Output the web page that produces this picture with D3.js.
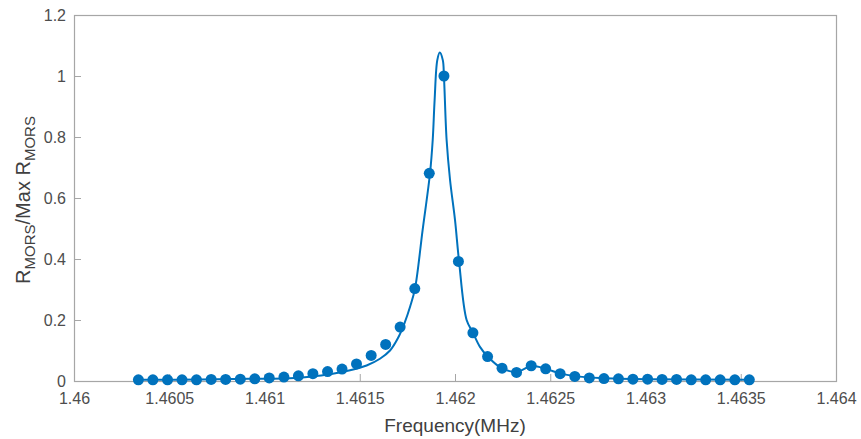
<!DOCTYPE html>
<html>
<head>
<meta charset="utf-8">
<script src="https://cdn.jsdelivr.net/npm/d3@7"></script>
<style>
    body { margin: 0; background: #fff; }
    svg { display: block; font-family: "Liberation Sans", Arial, sans-serif; }
</style>
</head>
<body>
<svg id="chart" width="861" height="439"></svg>
<script>
// measured points (frequency in MHz, normalised R)
var freqs = [
    1.460338, 1.460414, 1.460491, 1.460567, 1.460643, 1.460720, 1.460796, 1.460873,
    1.460949, 1.461025, 1.461102, 1.461178, 1.461254, 1.461331, 1.461407, 1.461483,
    1.461560, 1.461636, 1.461712, 1.461789, 1.461865, 1.461942, 1.462018, 1.462094,
    1.462171, 1.462247, 1.462323, 1.462400, 1.462476, 1.462552, 1.462629, 1.462705,
    1.462782, 1.462858, 1.462934, 1.463011, 1.463087, 1.463163, 1.463240, 1.463316,
    1.463392, 1.463469, 1.463545
];
var values = [
    0.004, 0.004, 0.004, 0.004, 0.004, 0.005, 0.005, 0.006,
    0.007, 0.010, 0.013, 0.017, 0.024, 0.031, 0.039, 0.056,
    0.084, 0.120, 0.177, 0.303, 0.681, 1.000, 0.392, 0.158,
    0.080, 0.042, 0.028, 0.050, 0.040, 0.024, 0.015, 0.010,
    0.008, 0.007, 0.006, 0.006, 0.005, 0.005, 0.004, 0.004,
    0.004, 0.004, 0.004
];

// fitted curve
var fitFreqs = [
    1.460338, 1.460661, 1.460924, 1.461134, 1.461239, 1.461344, 1.461449, 1.461536,
    1.461606, 1.461659, 1.461700, 1.461735, 1.461765, 1.461790, 1.461830, 1.461869,
    1.461883, 1.461893, 1.461907, 1.461920, 1.461936, 1.461942, 1.461956, 1.461974,
    1.462000, 1.462021, 1.462061, 1.462093, 1.462131, 1.462175, 1.462245, 1.462324,
    1.462403, 1.462481, 1.462551, 1.462630, 1.462761, 1.463024, 1.463545
];
var fitValues = [
    0.004, 0.005, 0.007, 0.009, 0.014, 0.022, 0.035, 0.051,
    0.073, 0.100, 0.140, 0.190, 0.245, 0.303, 0.495, 0.682,
    0.790, 0.921, 1.052, 1.077, 1.052, 0.998, 0.790, 0.659,
    0.528, 0.394, 0.200, 0.160, 0.112, 0.078, 0.042, 0.030,
    0.049, 0.039, 0.025, 0.016, 0.010, 0.006, 0.004
];

var xTicks = [1.46, 1.4605, 1.461, 1.4615, 1.462, 1.4625, 1.463, 1.4635, 1.464];
var yTicks = [0, 0.2, 0.4, 0.6, 0.8, 1, 1.2];

var blue = '#0072bd',
    axisGrey = '#a6a6a6',
    textGrey = '#4d4d4d';

var margin = { left: 74, right: 25, top: 15, bottom: 58 },
    width = 861, height = 439;

var svg = d3.select('#chart');

var x = d3.scaleLinear()
    .domain([1.46, 1.464])
    .range([margin.left, width - margin.right]);

var y = d3.scaleLinear()
    .domain([0, 1.2])
    .range([height - margin.bottom, margin.top]);

function drawAxes() {
    var xAxis = d3.axisBottom(x)
        .tickValues(xTicks)
        .tickSizeInner(-7)
        .tickSizeOuter(0)
        .tickPadding(12)
        .tickFormat(function(d) { return String(+d.toFixed(4)); });

    var yAxis = d3.axisLeft(y)
        .tickValues(yTicks)
        .tickSizeInner(-7)
        .tickSizeOuter(0)
        .tickPadding(8)
        .tickFormat(function(d) { return String(+d.toFixed(1)); });

    var gx = svg.append('g')
        .attr('transform', 'translate(0,' + y(0) + ')')
        .call(xAxis);

    var gy = svg.append('g')
        .attr('transform', 'translate(' + x(1.46) + ',0)')
        .call(yAxis);

    [gx, gy].forEach(function(g) {
        g.select('.domain').remove();
        g.selectAll('.tick line').attr('stroke', axisGrey);
        g.selectAll('.tick text')
            .attr('fill', textGrey)
            .style('font-size', '16px');
    });

    gx.selectAll('.tick text').attr('dy', '0.71em');

    // box
    svg.append('rect')
        .attr('x', x(1.46) + 0.5)
        .attr('y', y(1.2) + 0.5)
        .attr('width', x(1.464) - x(1.46))
        .attr('height', y(0) - y(1.2))
        .attr('fill', 'none')
        .attr('stroke', axisGrey)
        .attr('stroke-width', 1.2);
}

function drawLabels() {
    svg.append('text')
        .attr('x', (x(1.46) + x(1.464)) / 2)
        .attr('y', 432)
        .attr('text-anchor', 'middle')
        .attr('fill', '#404040')
        .style('font-size', '19px')
        .text('Frequency(MHz)');

    var yl = svg.append('text')
        .attr('transform', 'translate(30,' + ((y(0) + y(1.2)) / 2 + 2) + ') rotate(-90)')
        .attr('text-anchor', 'middle')
        .attr('fill', '#404040')
        .style('font-size', '20px');

    yl.append('tspan').text('R');
    yl.append('tspan').attr('dy', 5).style('font-size', '15px').text('MORS');
    yl.append('tspan').attr('dy', -5).text('/Max R');
    yl.append('tspan').attr('dy', 5).style('font-size', '15px').text('MORS');
}

function drawData() {
    var fit = fitFreqs.map(function(f, i) { return [f, fitValues[i]]; });
    var pts = freqs.map(function(f, i) { return [f, values[i]]; });

    var line = d3.line()
        .x(function(d) { return x(d[0]); })
        .y(function(d) { return y(d[1]); })
        .curve(d3.curveCatmullRom.alpha(0.5));

    svg.append('path')
        .datum(fit)
        .attr('fill', 'none')
        .attr('stroke', blue)
        .attr('stroke-width', 2)
        .attr('d', line);

    svg.selectAll('.pt')
        .data(pts)
        .enter()
        .append('circle')
        .attr('class', 'pt')
        .attr('cx', function(d) { return x(d[0]); })
        .attr('cy', function(d) { return y(d[1]); })
        .attr('r', 5.5)
        .attr('fill', blue);
}

drawAxes();
drawData();
drawLabels();
</script>
</body>
</html>
